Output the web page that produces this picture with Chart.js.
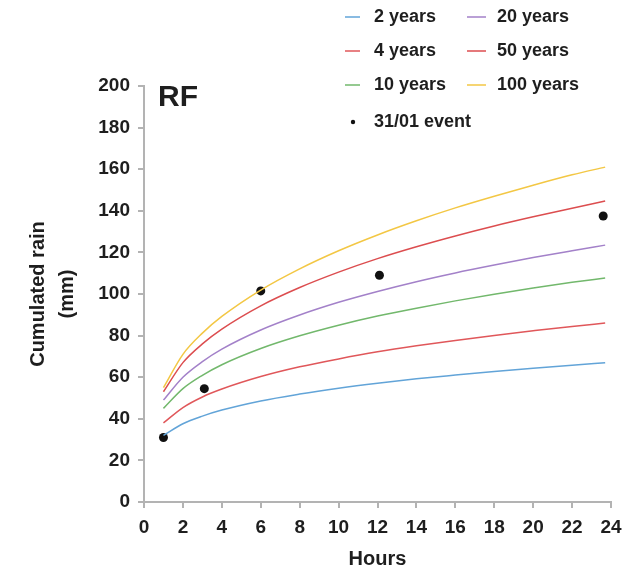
<!DOCTYPE html>
<html>
<head>
<meta charset="utf-8">
<script src="https://cdn.jsdelivr.net/npm/chart.js@4/dist/chart.umd.min.js"></script>
<style>
  html, body { margin: 0; padding: 0; background: #fff; }
  #wrap { width: 641px; height: 577px; }
</style>
</head>
<body>
<div id="wrap"><canvas id="c" width="641" height="577"></canvas></div>
<script>
// hours along the return-period curves
const hours = [1, 2, 3, 4, 6, 8, 10, 12, 14, 16, 18, 20, 22, 23.7]
// cumulated rain (mm) per return period
const rp2   = [32, 37.6, 41.3, 44.2, 48.6, 51.9, 54.7, 57.1, 59.2, 61.0, 62.7, 64.3, 65.8, 67]
const rp4   = [38, 45.4, 50.5, 54.3, 60.3, 65.0, 68.8, 72.2, 75.1, 77.7, 80.1, 82.3, 84.4, 86]
const rp10  = [45, 54.5, 60.9, 66.0, 73.8, 79.9, 85.0, 89.4, 93.2, 96.7, 99.9, 102.9, 105.6, 107.7]
const rp20  = [49, 60.0, 67.5, 73.5, 82.7, 89.9, 96.0, 101.2, 105.9, 110.1, 113.9, 117.5, 120.8, 123.5]
const rp50  = [53, 67.0, 76.0, 83.1, 94.3, 103.1, 110.5, 117.0, 122.7, 127.9, 132.7, 137.1, 141.2, 144.7]
const rp100 = [55, 71.0, 81.2, 89.2, 101.9, 112.1, 120.8, 128.4, 135.2, 141.4, 147.0, 152.3, 157.3, 161]

// 31/01 event observations
const eventHours = [1.0, 3.1, 6.0, 12.1, 23.6]
const eventRain  = [31, 54.5, 101.5, 109, 137.5]

const labels = ['2 years', '4 years', '10 years', '20 years', '50 years', '100 years']
const colors = ['#62a4d8', '#e0575a', '#72b86c', '#a381c9', '#dc4d4f', '#f3c744']

const FONT = 'Liberation Sans, Arial, sans-serif'
const INK  = '#1e1e1e'
const AXIS = '#b3b3b3'

const series = [rp2, rp4, rp10, rp20, rp50, rp100]
const toXY = (xs, ys) => xs.map((x, i) => ({ x, y: ys[i] }))

const datasets = series.map((vals, i) => ({
  label: labels[i],
  data: toXY(hours, vals),
  borderColor: colors[i],
  backgroundColor: colors[i],
  borderWidth: 1.5,
  pointRadius: 0,
  cubicInterpolationMode: 'monotone',
  fill: false,
}))
datasets.push({
  label: '31/01 event',
  data: toXY(eventHours, eventRain),
  showLine: false,
  pointRadius: 4.5,
  pointHoverRadius: 4.5,
  backgroundColor: '#111',
  borderColor: '#111',
  borderWidth: 0,
})

// legend in two columns + the "RF" panel tag
const legendPlugin = {
  id: 'customLegend',
  afterDraw(chart) {
    const ctx = chart.ctx
    const ca = chart.chartArea
    ctx.save()
    ctx.font = 'bold 30px ' + FONT
    ctx.fillStyle = INK
    ctx.textBaseline = 'middle'
    ctx.textAlign = 'left'
    ctx.fillText('RF', ca.left + 14, ca.top + 12)

    ctx.font = 'bold 18px ' + FONT
    const colLine = [[345, 360], [467, 486]]
    const colText = [374, 497]
    const rowY = [17, 51, 85, 122]
    chart.data.datasets.forEach((ds, i) => {
      if (i < 6) {
        const col = Math.floor(i / 3), row = i % 3
        const y = rowY[row]
        ctx.strokeStyle = ds.borderColor
        ctx.lineWidth = 1.5
        ctx.beginPath()
        ctx.moveTo(colLine[col][0], y)
        ctx.lineTo(colLine[col][1], y)
        ctx.stroke()
        ctx.fillStyle = INK
        ctx.fillText(ds.label, colText[col], y)
      } else {
        const y = rowY[3]
        ctx.fillStyle = '#111'
        ctx.beginPath()
        ctx.arc(353, y, 2.2, 0, Math.PI * 2)
        ctx.fill()
        ctx.fillStyle = INK
        ctx.fillText(ds.label, colText[0], y)
      }
    })
    ctx.restore()
  }
}

new Chart(document.getElementById('c'), {
  type: 'line',
  data: { datasets },
  plugins: [legendPlugin],
  options: {
    responsive: false,
    animation: false,
    layout: { padding: { top: 86, right: 30, left: 0, bottom: 0 } },
    plugins: { legend: { display: false }, tooltip: { enabled: false } },
    scales: {
      x: {
        type: 'linear',
        min: 0, max: 24,
        afterFit(s) { s.height = 75 },
        ticks: { stepSize: 2, color: INK, padding: 8, font: { family: FONT, size: 19, weight: 'bold' } },
        grid: { drawOnChartArea: false, drawTicks: true, tickLength: 6, color: AXIS, lineWidth: 2 },
        border: { color: AXIS, width: 2 },
        title: { display: true, text: 'Hours', color: INK, padding: { top: 0, bottom: 6 }, font: { family: FONT, size: 20, weight: 'bold' } },
      },
      y: {
        min: 0, max: 200,
        afterFit(s) { s.width = 144 },
        ticks: { stepSize: 20, color: INK, padding: 8, font: { family: FONT, size: 19, weight: 'bold' } },
        grid: { drawOnChartArea: false, drawTicks: true, tickLength: 6, color: AXIS, lineWidth: 2 },
        border: { color: AXIS, width: 2 },
        title: { display: true, text: ['Cumulated rain', '(mm)'], color: INK, padding: { top: 24, bottom: 0 }, font: { family: FONT, size: 20, weight: 'bold', lineHeight: 1.45 } },
      },
    },
  },
})
</script>
</body>
</html>
